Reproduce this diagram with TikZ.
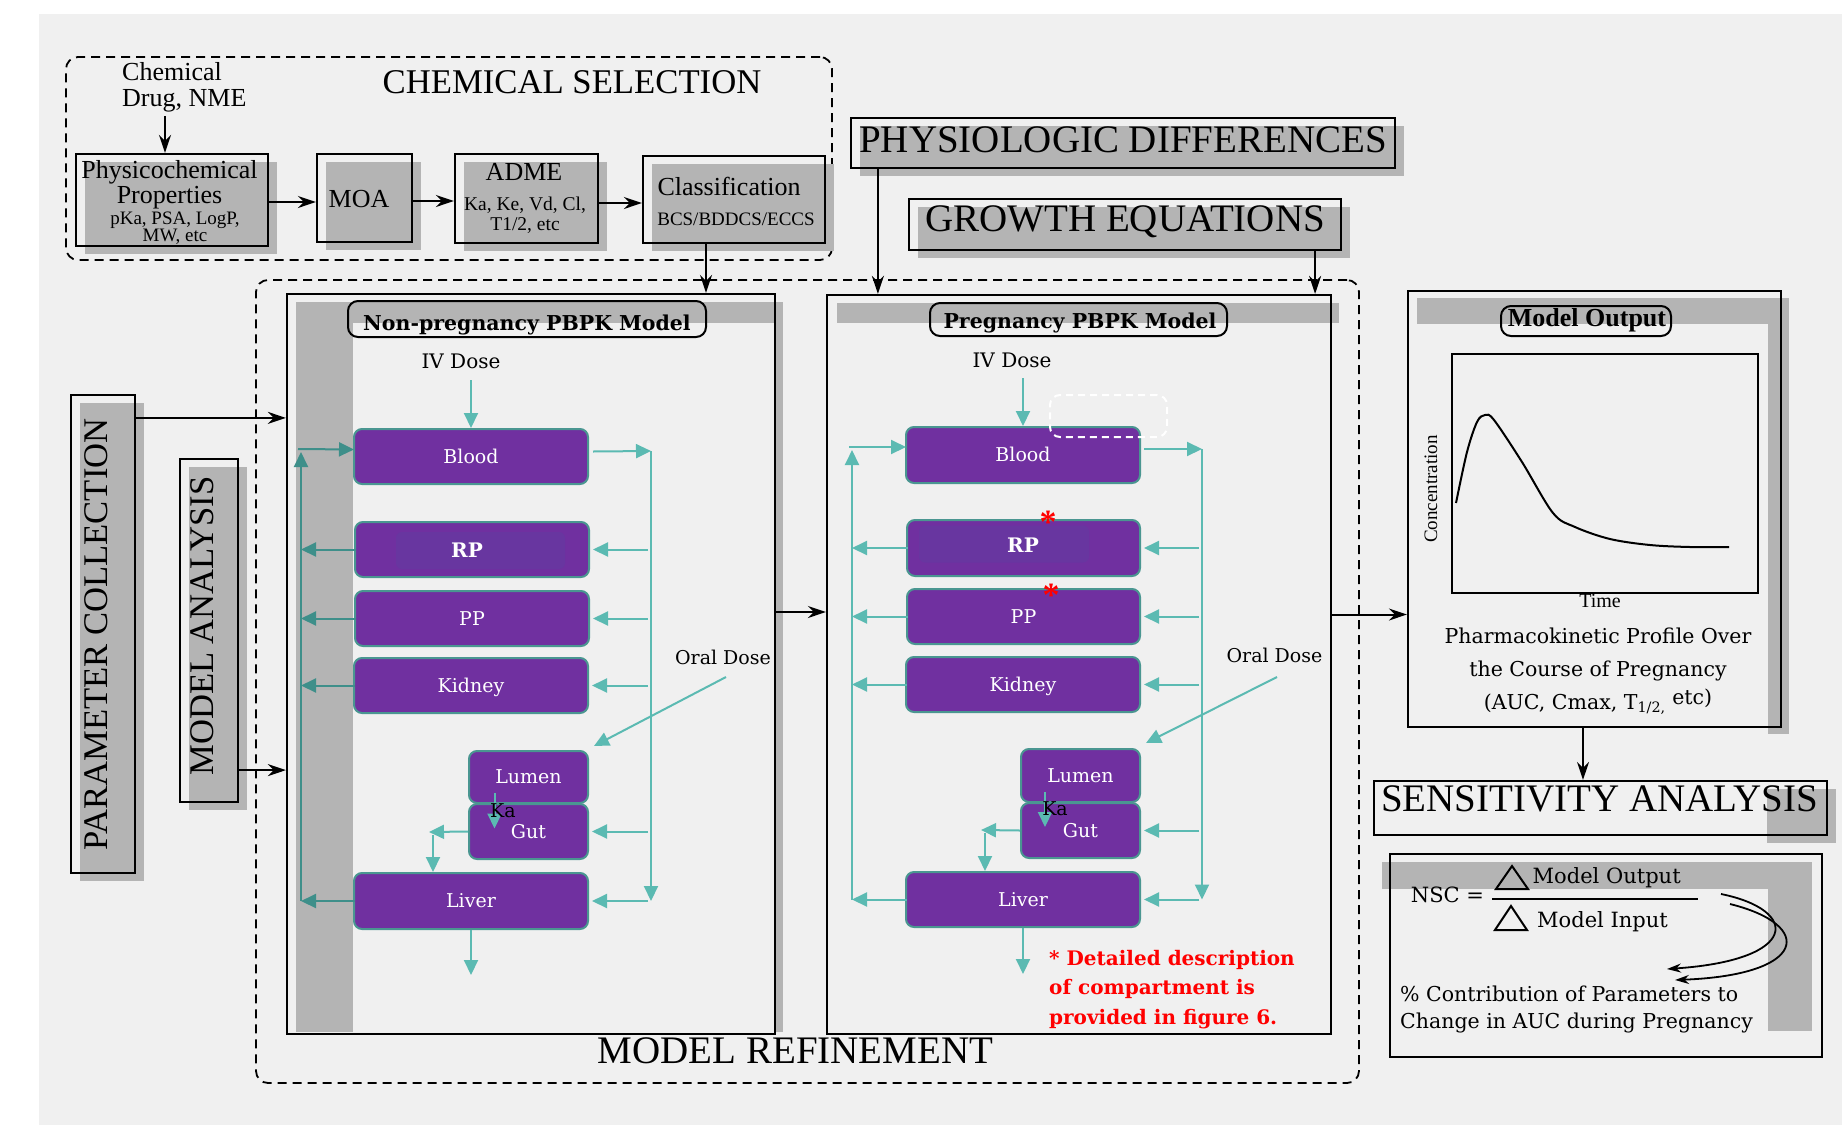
\documentclass[tikz,border=0pt]{standalone}
\usepackage{fontspec}
\setmainfont{Liberation Serif}
\newfontfamily\cent{DejaVu Serif}
\usepackage{tikz}
\usetikzlibrary{arrows.meta, positioning, shadows, calc}
\usepackage{xcolor}
\definecolor{bggray}{RGB}{240,240,240}
\definecolor{shgray}{RGB}{180,180,180}
\definecolor{comppurple}{RGB}{112,48,160}
\definecolor{rpinner}{RGB}{104,54,160}
\definecolor{compedge}{RGB}{74,150,145}
\definecolor{flowteal}{RGB}{91,186,178}
\definecolor{flowdark}{RGB}{62,143,138}
\newcommand{\fsz}[2]{\fontsize{#1}{#2}\selectfont}
\tikzstyle{shbox} = [rectangle, draw=black, line width=2.2pt, drop shadow={shadow xshift=9pt, shadow yshift=-8pt, fill=shgray, opacity=1}]
\tikzstyle{dashbox} = [rectangle, draw=black, line width=1.8pt, dash pattern=on 9pt off 6pt, rounded corners=12pt]
\tikzstyle{modelbox} = [rectangle, draw=black, line width=2.2pt]
\tikzstyle{titlebox} = [rectangle, draw=black, line width=2pt, rounded corners=10pt]
\tikzstyle{comp} = [rectangle, rounded corners=8pt, draw=compedge, line width=2pt, fill=comppurple, text=white, minimum width=234, minimum height=55, text height=13.5pt, text depth=0pt, font=\cent\fsz{19}{21}]
\tikzstyle{rpglow} = [rectangle, rounded corners=6pt, fill=rpinner, minimum width=169, minimum height=37]
\tikzstyle{arrow} = [line width=2pt, -{Stealth[length=18pt,width=12pt]}]
\tikzstyle{tealarrow} = [line width=2pt, color=flowteal, -{Triangle[length=15pt,width=14pt]}]
\tikzstyle{tealdark} = [line width=2pt, color=flowdark, -{Triangle[length=15pt,width=14pt]}]
\tikzstyle{curvearrow} = [line width=1.8pt, -{Stealth[length=14pt,width=9pt]}]

\begin{document}
\begin{tikzpicture}[x=1pt, y=-1pt, every node/.style={inner sep=0pt}]
\useasboundingbox (0,0) rectangle (1842,1125);
\fill[white] (0,0) rectangle (1842,1125);
\fill[bggray] (39,14) rectangle (1842,1125);

% Chemical selection
\node[dashbox, minimum width=766, minimum height=203] (chemsel) at (449,158.5) {};
\node[anchor=base, font=\fsz{34.7}{40}] (chemtitle) at (572,93) {CHEMICAL SELECTION};
\node[anchor=base west, align=left, font=\fsz{26}{26}] (drug) at (122,106) {Chemical\\Drug, NME};
\node[shbox, minimum width=192, minimum height=92] (phys) at (172,200) {};
\node[align=center, font=\fsz{26}{25}] (physname) at (169.5,184.5) {Physicochemical\\Properties};
\node[align=center, font=\fsz{19}{17}] (physval) at (175,228) {pKa, PSA, LogP,\\MW, etc};
\node[shbox, minimum width=95, minimum height=88] (moa) at (364.5,198) {};
\node[anchor=base, font=\fsz{26}{26}] (moaname) at (359,207) {MOA};
\node[shbox, minimum width=143, minimum height=89] (adme) at (526.5,198.5) {};
\node[anchor=base, font=\fsz{26}{26}] (admename) at (524,180) {ADME};
\node[align=center, font=\fsz{19.5}{20}] (admeval) at (525,215.5) {Ka, Ke, Vd, Cl,\\T1/2, etc};
\node[shbox, minimum width=182, minimum height=87] (class) at (734,199.5) {};
\node[anchor=base, font=\fsz{26}{26}] (classname) at (729,195) {Classification};
\node[anchor=base, font=\fsz{19}{19}] (classval) at (736,225) {BCS/BDDCS/ECCS};

\draw[arrow] ($(phys.north |- drug.south)+(-7,4)$) -- ($(phys.north)+(-7,0)$);
\draw[arrow] ($(phys.east)+(0,2)$) -- ($(phys.east -| moa.west)+(0,2)$);
\draw[arrow] ($(moa.east)+(0,3)$) -- ($(moa.east -| adme.west)+(0,3)$);
\draw[arrow] ($(adme.east)+(0,4.5)$) -- ($(adme.east -| class.west)+(0,4.5)$);

% Physiologic differences and growth
\node[shbox, minimum width=544, minimum height=50] (pd) at (1123,143) {};
\node[anchor=base, font=\fsz{39}{40}] (pdname) at (1123,152) {PHYSIOLOGIC DIFFERENCES};
\node[shbox, minimum width=432, minimum height=51] (ge) at (1125,224.5) {};
\node[anchor=base, font=\fsz{39}{40}] (gename) at (1125,231) {GROWTH EQUATIONS};

% Parameter collection and model analysis
\node[shbox, minimum width=64, minimum height=478] (pc) at (103,634) {};
\node[anchor=base, rotate=90, font=\fsz{34.6}{40}] (pcname) at (107,634.5) {PARAMETER COLLECTION};
\node[shbox, minimum width=58, minimum height=343] (ma) at (209,630.5) {};
\node[anchor=base, rotate=90, font=\fsz{34.6}{40}] (maname) at (213,626) {MODEL ANALYSIS};

% Model refinement
\node[dashbox, minimum width=1103, minimum height=803] (mr) at (807.5,681.5) {};
\node[anchor=base, font=\fsz{39}{40}] (mrname) at (795.5,1063) {MODEL REFINEMENT};

% Non-pregnancy model
\fill[shgray] (296,302) rectangle (783,1032);
\fill[bggray] (353,323) rectangle (775,1032);
\node[modelbox, minimum width=488, minimum height=740] (np) at (531,664) {};
\node[titlebox, minimum width=358, minimum height=36] (npt) at (527,319) {};
\node[anchor=base, font=\cent\bfseries\fsz{20.5}{24}] (nptname) at (527,330) {Non-pregnancy PBPK Model};
\node[anchor=base, font=\cent\fsz{20}{20}] (npiv) at (461,368) {IV Dose};
\node[anchor=base, font=\cent\fsz{19}{19}] (nporal) at (723,664) {Oral Dose};
\node[comp] (npblood) at (471,456.5) {Blood};
\node[comp] (nprp) at (472,549.5) {};
\node[rpglow] (nprpglow) at (480.5,550.5) {};
\node[anchor=base, text=white, font=\cent\bfseries\fsz{20}{20}] (nprptext) at (467,557) {RP};
\node[comp] (nppp) at (472,618.5) {PP};
\node[comp] (npkid) at (471,685.5) {Kidney};
\node[comp, minimum width=119, minimum height=52] (nplum) at (528.5,777) {Lumen};
\node[comp, minimum width=119] (npgut) at (528.5,831.5) {Gut};
\node[comp, minimum height=56] (npliv) at (471,901) {Liver};

\coordinate (npbus) at (651,451);
\coordinate (npleft) at (301,452);
\coordinate (npgutl) at (433,832);
\coordinate (npexit) at (471,975);
\draw[tealarrow] ($(npiv.base -| npblood.north)+(0,12)$) -- (npblood.north);
\draw[tealarrow] ($(npblood.east)+(4,-5)$) -- (npbus);
\draw[tealarrow] (npbus) -- (npbus |- npliv.east);
\foreach \c in {nprp,nppp,npkid,npgut,npliv}
  \draw[tealarrow] ($(npbus |- \c.east)+(-3,0)$) -- ($(\c.east)+(3,0)$);
\draw[tealdark] (npleft |- npliv.west) -- (npleft);
\draw[tealdark] ($(npleft)+(-3,-3)$) -- ($(npblood.west)+(1,-7)$);
\foreach \c in {nprp,nppp,npkid,npliv}
  \draw[tealdark] ($(\c.west)+(2,0)$) -- (npleft |- \c.west);
\draw[tealarrow] (npgut.west) -- ($(npgutl)+(-4,0)$);
\draw[tealarrow] ($(npgutl)+(0,3)$) -- (npgutl |- npliv.north);
\draw[tealarrow] ($(nplum.south)+(-34,-11)$) -- ($(npgut.center)+(-34,-3)$);
\draw[tealarrow] (npliv.south) -- (npexit);
\draw[tealarrow] ($(nporal.base)+(3,13)$) -- ($(nplum.north east)+(5,-4)$);
\node[anchor=base, font=\cent\fsz{19}{19}] (npka) at (503,817) {Ka};

% Pregnancy model
\fill[shgray] (837,303) rectangle (1339,323);
\node[modelbox, minimum width=504, minimum height=739] (pg) at (1079,664.5) {};
\node[titlebox, minimum width=297, minimum height=33] (pgt) at (1078.5,319.5) {};
\node[anchor=base, font=\cent\bfseries\fsz{20.5}{24}] (pgtname) at (1080,328) {Pregnancy PBPK Model};
\node[anchor=base, font=\cent\fsz{20}{20}] (pgiv) at (1012,367) {IV Dose};
\node[anchor=base, font=\cent\fsz{19}{19}] (pgoral) at (1274.5,662) {Oral Dose};
\node[comp, minimum height=56] (pgblood) at (1023,455) {Blood};
\node[draw=white, line width=2pt, dash pattern=on 7pt off 5pt, rounded corners=10pt, minimum width=117, minimum height=42] (pghl) at (1108.5,416) {};
\node[comp, minimum width=233, minimum height=56] (pgrp) at (1023.5,548) {};
\node[rpglow, minimum width=170] (pgrpglow) at (1004,544) {};
\node[anchor=base, text=white, font=\cent\bfseries\fsz{20}{20}] (pgrptext) at (1023,552) {RP};
\node[comp, minimum width=233] (pgpp) at (1023.5,616.5) {PP};
\node[comp] (pgkid) at (1023,684.5) {Kidney};
\node[comp, minimum width=119, minimum height=53] (pglum) at (1080.5,775.5) {Lumen};
\node[comp, minimum width=119] (pggut) at (1080.5,830.5) {Gut};
\node[comp] (pgliv) at (1023,899.5) {Liver};
\node[anchor=base, text=red, font=\bfseries\fsz{34}{34}] (pgstarrp) at (1048,533) {*};
\node[anchor=base, text=red, font=\bfseries\fsz{34}{34}] (pgstarpp) at (1051,606) {*};

\coordinate (pgbus) at (1202,449);
\coordinate (pgleft) at (852,450);
\coordinate (pggutl) at (985,830);
\coordinate (pgexit) at (1023,974);
\draw[tealarrow] ($(pgiv.base -| pgblood.north)+(0,11)$) -- (pgblood.north);
\draw[tealarrow] ($(pgblood.east)+(3,-6)$) -- (pgbus);
\draw[tealarrow] (pgbus) -- (pgbus |- pgliv.east);
\foreach \c in {pgrp,pgpp,pgkid,pggut,pgliv}
  \draw[tealarrow] ($(pgbus |- \c.east)+(-3,0)$) -- ($(\c.east)+(3,0)$);
\draw[tealarrow] (pgleft |- pgliv.west) -- (pgleft);
\draw[tealarrow] ($(pgleft)+(-3,-3)$) -- ($(pgblood.west)+(1,-8)$);
\foreach \c in {pgrp,pgpp,pgkid,pgliv}
  \draw[tealarrow] ($(\c.west)+(2,0)$) -- (pgleft |- \c.west);
\draw[tealarrow] (pggut.west) -- ($(pggutl)+(-4,0)$);
\draw[tealarrow] ($(pggutl)+(0,3)$) -- (pggutl |- pgliv.north);
\draw[tealarrow] ($(pglum.south)+(-35.5,-11)$) -- ($(pggut.center)+(-35.5,-3.5)$);
\draw[tealarrow] (pgliv.south) -- (pgexit);
\draw[tealarrow] ($(pgoral.base)+(2.5,15)$) -- ($(pglum.north east)+(5,-5)$);
\node[anchor=base, font=\cent\fsz{19}{19}] (pgka) at (1055,815) {Ka};
\node[anchor=base west, align=left, text=red, font=\cent\bfseries\fsz{20}{29.5}] (note) at (1049,1024) {* Detailed description\\of compartment is\\provided in figure 6.};

% Model output
\fill[shgray] (1417,298) rectangle (1789,734);
\fill[bggray] (1417,324) rectangle (1768,734);
\node[modelbox, minimum width=373, minimum height=436] (mo) at (1594.5,509) {};
\node[titlebox, minimum width=170, minimum height=30] (mot) at (1586,321) {};
\node[anchor=base, font=\bfseries\fsz{26}{26}] (motname) at (1587,326) {Model Output};
\node[draw, line width=2pt, minimum width=306, minimum height=239] (plot) at (1605,473.5) {};
\draw[line width=2pt] plot[smooth, tension=0.55] coordinates {(1456,503) (1467,452) (1477,422) (1485,415) (1494,420) (1522,462) (1553,513) (1575,527) (1610,539) (1650,545) (1690,547) (1729,547)};
\node[anchor=base, rotate=90, font=\fsz{19}{19}] (conc) at (1437,489) {Concentration};
\node[anchor=base, font=\fsz{20}{20}] (time) at (1600,607) {Time};
\node[align=center, font=\cent\fsz{20.5}{33}] (pkprof) at (1598,671) {Pharmacokinetic Profile Over\\the Course of Pregnancy\\(AUC, Cmax, T\textsubscript{1/2,} \raisebox{5pt}{etc)}};

% Sensitivity analysis
\fill[shgray] (1767,789) rectangle (1836,843);
\node[modelbox, minimum width=453, minimum height=54] (sa) at (1600.5,808) {};
\node[anchor=base, font=\fsz{39}{40}] (saname) at (1599.5,811) {SENSITIVITY ANALYSIS};
\fill[shgray] (1382,862) rectangle (1812,1031);
\fill[bggray] (1382,889) rectangle (1768,1031);
\node[modelbox, minimum width=432, minimum height=203] (sens) at (1606,955.5) {};
\node[anchor=base, font=\cent\fsz{21}{21}] (nsc) at (1447.5,902) {NSC =};
\draw[line width=2pt] (1492,899) -- (1698,899);
\draw[line width=2pt] (1496,889) -- (1528,889) -- (1512,866) -- cycle;
\draw[line width=2pt] (1495,930) -- (1527,930) -- (1511,906) -- cycle;
\node[anchor=base, font=\cent\fsz{21}{21}] (mout) at (1606.7,883) {Model Output};
\node[anchor=base, font=\cent\fsz{21}{21}] (minp) at (1602.5,927) {Model Input};
\node[anchor=base west, align=left, font=\cent\fsz{20.5}{27}] (contrib) at (1400,1028) {\% Contribution of Parameters to\\Change in AUC during Pregnancy};
\coordinate (nscA) at (1721,894);
\coordinate (nscB) at (1730,904);
\coordinate (pctA) at (1667,969);
\coordinate (pctB) at (1675,980);
\draw[curvearrow] (nscA) .. controls (1800,910) and (1800,960) .. (pctA);
\draw[curvearrow] (nscB) .. controls (1815,925) and (1808,975) .. (pctB);

% Connections between blocks
\draw[arrow] ($(class.south)+(-28,0)$) -- ($(class.south |- np.north)+(-28,0)$);
\draw[arrow] ($(pd.south west)+(28,0)$) -- ($(pd.south west |- pg.north)+(28,0)$);
\draw[arrow] ($(ge.south east)+(-27,0)$) -- ($(ge.south east |- pg.north)+(-27,0)$);
\draw[arrow] ($(pc.north east)+(0,24)$) -- ($(pc.north east -| np.west)+(0,24)$);
\draw[arrow] ($(ma.south east)+(0,-33)$) -- ($(ma.south east -| np.west)+(0,-33)$);
\draw[arrow] ($(np.east)+(0,-52)$) -- ($(np.east -| pg.west)+(0,-52)$);
\draw[arrow] ($(pg.east)+(0,-50)$) -- ($(pg.east -| mo.west)+(0,-50)$);
\draw[arrow] ($(mo.south)+(-11.5,0)$) -- ($(mo.south |- sa.north)+(-11.5,0)$);

\end{tikzpicture}
\end{document}
